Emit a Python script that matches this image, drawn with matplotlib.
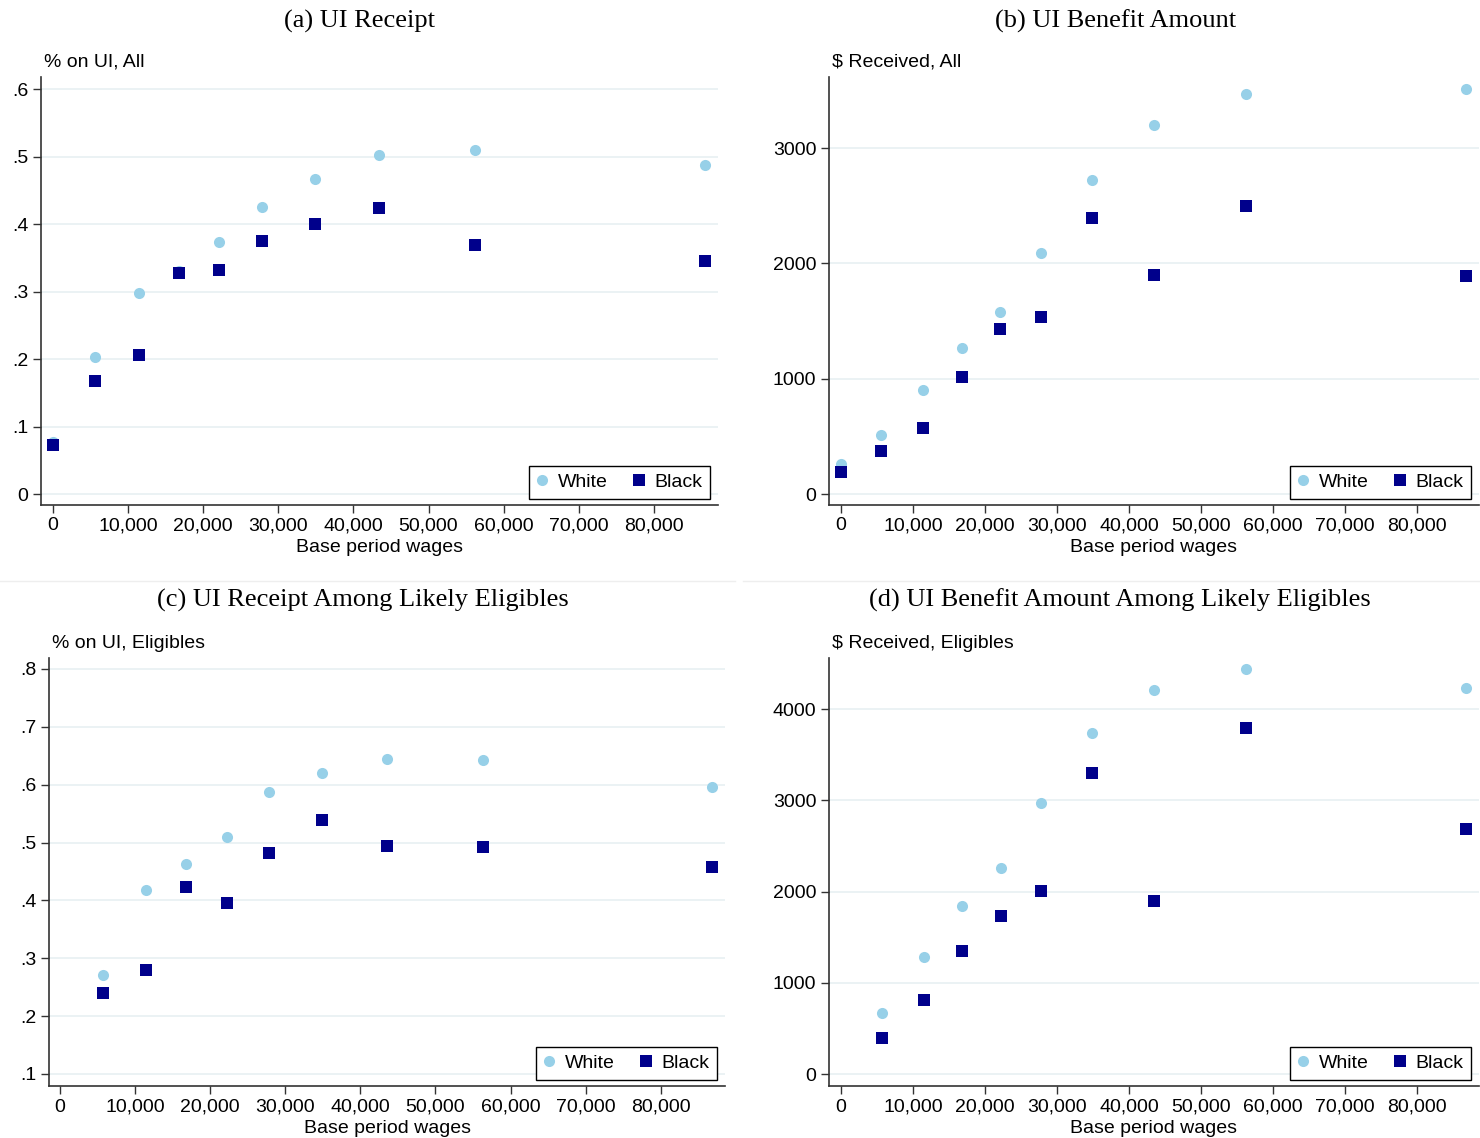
#!/usr/bin/env python3
"""UI receipt and benefit amount by base period wages, White vs Black"""
import numpy as np
import matplotlib
matplotlib.use("Agg")
import matplotlib.pyplot as plt
from matplotlib.lines import Line2D

# bin means of base period wages
wages_all = [0, 5600, 11400, 16800, 22100, 27800, 34900, 43400, 56200, 86800]
wages_elig = [5700, 11500, 16800, 22200, 27800, 34900, 43500, 56300, 86800]

receipt_white = [0.077, 0.203, 0.298, 0.330, 0.373, 0.425, 0.467, 0.502, 0.510, 0.487]
receipt_black = [0.073, 0.167, 0.206, 0.327, 0.332, 0.375, 0.400, 0.424, 0.369, 0.345]

amount_white = [260, 512, 902, 1266, 1578, 2090, 2723, 3200, 3469, 3512]
amount_black = [191, 373, 572, 1015, 1431, 1535, 2394, 1899, 2498, 1890]

receipt_elig_white = [0.271, 0.418, 0.463, 0.510, 0.587, 0.620, 0.644, 0.643, 0.596]
receipt_elig_black = [0.240, 0.280, 0.423, 0.396, 0.482, 0.539, 0.494, 0.492, 0.458]

amount_elig_white = [668, 1282, 1841, 2258, 2970, 3737, 4208, 4438, 4230]
amount_elig_black = [395, 811, 1348, 1732, 2005, 3299, 1896, 3792, 2685]

x_ticks = list(range(0, 80001, 10000))

W, H = 1480, 1138
WHITE_C = "#97d0e8"
BLACK_C = "#00008b"
GRID_C = "#e8f0f2"
SANS = "Liberation Sans"
SERIF = "Liberation Serif"
FS = 14

fig = plt.figure(figsize=(W / 100, H / 100), dpi=100)


def panel(box, title, title_x, title_y, ylab, xs, yw, yb, yticks, ytlabels,
          xlim, ylim):
    left, right, top, bottom = box
    ax = fig.add_axes([left / W, 1 - bottom / H, (right - left) / W,
                       (bottom - top) / H])
    ax.plot(xs, yw, "o", color=WHITE_C, markersize=8, markeredgewidth=0,
            label="White", zorder=3)
    ax.plot(xs, yb, "s", color=BLACK_C, markersize=8.6, markeredgewidth=0,
            label="Black", zorder=4)
    ax.set_xlim(*xlim)
    ax.set_ylim(*ylim)
    ax.set_xticks(x_ticks)
    ax.set_xticklabels(["{:,}".format(v) for v in x_ticks], family=SANS,
                       fontsize=FS)
    ax.set_yticks(yticks)
    ax.set_yticklabels(ytlabels, family=SANS, fontsize=FS)
    ax.tick_params(direction="out", length=6, width=1, color="#333333",
                   pad=3)
    for s in ["top", "right"]:
        ax.spines[s].set_visible(False)
    for s in ["left", "bottom"]:
        ax.spines[s].set_color("#333333")
        ax.spines[s].set_linewidth(1.2)
    ax.grid(axis="y", color=GRID_C, linewidth=1.2)
    ax.set_axisbelow(True)
    ax.set_xlabel("Base period wages", family=SANS, fontsize=FS,
                  labelpad=3)
    fig.text((left + 3) / W, 1 - (top - 15) / H, ylab, family=SANS,
             fontsize=FS, ha="left", va="center")
    fig.text(title_x / W, 1 - title_y / H, title, family=SERIF,
             fontsize=19, ha="center", va="center")
    handles = [
        Line2D([], [], marker="o", color=WHITE_C, linestyle="none",
               markersize=8, markeredgewidth=0),
        Line2D([], [], marker="s", color=BLACK_C, linestyle="none",
               markersize=8, markeredgewidth=0),
    ]
    leg = ax.legend(handles, ["White", "Black"], ncol=2, loc="lower right",
                    bbox_to_anchor=(1 - 8 / (right - left),
                                    6 / (bottom - top)),
                    borderaxespad=0, fancybox=False, framealpha=1,
                    edgecolor="black", handlelength=0.6, handletextpad=0.5,
                    columnspacing=1.3, borderpad=0.4,
                    prop={"family": SANS, "size": FS})
    leg.get_frame().set_linewidth(1.0)
    return ax


panel((41, 718, 77, 505), "(a) UI Receipt", 359, 21, "% on UI, All",
      wages_all, receipt_white, receipt_black,
      [0, 0.1, 0.2, 0.3, 0.4, 0.5, 0.6], ["0", ".1", ".2", ".3", ".4", ".5", ".6"],
      (-1600, 88550), (-0.0163, 0.618))

panel((829, 1479, 77, 505), "(b) UI Benefit Amount", 1116, 21,
      "$ Received, All",
      wages_all, amount_white, amount_black,
      [0, 1000, 2000, 3000], ["0", "1000", "2000", "3000"],
      (-1667, 88600), (-95, 3617))

panel((49, 725, 658, 1086), "(c) UI Receipt Among Likely Eligibles", 363, 600,
      "% on UI, Eligibles",
      wages_elig, receipt_elig_white, receipt_elig_black,
      [0.1, 0.2, 0.3, 0.4, 0.5, 0.6, 0.7, 0.8],
      [".1", ".2", ".3", ".4", ".5", ".6", ".7", ".8"],
      (-1465, 88550), (0.079, 0.819))

panel((829, 1479, 658, 1086), "(d) UI Benefit Amount Among Likely Eligibles",
      1120, 600, "$ Received, Eligibles",
      wages_elig, amount_elig_white, amount_elig_black,
      [0, 1000, 2000, 3000, 4000], ["0", "1000", "2000", "3000", "4000"],
      (-1667, 88600), (-131, 4559))

# faint separators between the combined graphs
fig.add_artist(Line2D([0, 735 / W], [1 - 581 / H, 1 - 581 / H],
                      color="#eeeeee", linewidth=1))
fig.add_artist(Line2D([743 / W, 1], [1 - 581 / H, 1 - 581 / H],
                      color="#eeeeee", linewidth=1))

fig.savefig("out.png", dpi=100, facecolor="white")
